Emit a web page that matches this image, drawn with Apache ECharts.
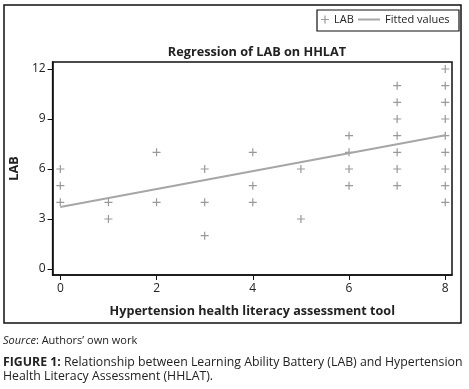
<!DOCTYPE html>
<html>
<head>
<meta charset="utf-8">
<script src="https://cdn.jsdelivr.net/npm/echarts@6/dist/echarts.min.js"></script>
<style>
  html, body { margin: 0; padding: 0; background: #fff; }
  #chart { width: 469px; height: 389px; }
</style>
</head>
<body>
<div id="chart"></div>
<script>
// HHLAT score (x) vs LAB score (y), one entry per visible marker
var hhlat = [0, 0, 0, 1, 1, 2, 2, 3, 3, 3, 4, 4, 4, 5, 5,
    6, 6, 6, 6, 7, 7, 7, 7, 7, 7, 7,
    8, 8, 8, 8, 8, 8, 8, 8, 8];
var lab = [4, 5, 6, 3, 4, 4, 7, 2, 4, 6, 4, 5, 7, 3, 6,
    5, 6, 7, 8, 5, 6, 7, 8, 9, 10, 11,
    4, 5, 6, 7, 8, 9, 10, 11, 12];
// fitted line end points
var fitX = [0, 8];
var fitY = [3.72, 8.02];
var xTicks = [0, 2, 4, 6, 8];
var yTicks = [0, 3, 6, 9, 12];

var plusPath = 'path://M3.4,0h1.2v3.4h3.4v1.2h-3.4v3.4h-1.2v-3.4h-3.4v-1.2h3.4z';
var font = '"Open Sans", sans-serif';

var scatterData = [];
for (var i = 0; i < hhlat.length; i++) {
    scatterData.push([hhlat[i], lab[i]]);
}
var fitData = [];
for (var j = 0; j < fitX.length; j++) {
    fitData.push([fitX[j], fitY[j]]);
}

var option = {
    animation: false,
    backgroundColor: '#fff',
    textStyle: { fontFamily: font },
    title: {
        text: 'Regression of LAB on HHLAT',
        left: 252,
        textAlign: 'center',
        top: 41,
        textStyle: { fontSize: 12.7, fontWeight: 'bold', color: '#222', fontFamily: font }
    },
    legend: [
        {
            left: 321,
            top: 14,
            padding: 0,
            itemWidth: 8,
            itemHeight: 8,
            textStyle: { fontSize: 11, color: '#222', fontFamily: font },
            data: [{ name: 'LAB', icon: plusPath, itemStyle: { color: '#808080' } }]
        },
        {
            left: 358,
            top: 14,
            padding: 0,
            itemWidth: 22,
            itemHeight: 2,
            textStyle: { fontSize: 11, color: '#222', fontFamily: font },
            data: [{ name: 'Fitted values', icon: 'rect', itemStyle: { color: '#a6a6a6' } }]
        }
    ],
    grid: {
        left: 49,
        right: 17,
        top: 62,
        bottom: 114,
        show: true,
        borderColor: '#111',
        borderWidth: 1.5
    },
    xAxis: {
        type: 'value',
        min: -0.16,
        max: 8.14,
        name: 'Hypertension health literacy assessment tool',
        nameLocation: 'middle',
        nameGap: 30,
        nameTextStyle: { fontSize: 12.6, fontWeight: 'bold', color: '#222' },
        splitLine: { show: false },
        axisLine: { onZero: false, lineStyle: { color: '#111', width: 1.5 } },
        axisTick: { length: 5, customValues: xTicks, lineStyle: { color: '#111' } },
        axisLabel: { customValues: xTicks, fontSize: 12, color: '#222', margin: 8 }
    },
    yAxis: {
        type: 'value',
        min: -0.36,
        max: 12.42,
        name: 'LAB',
        nameLocation: 'middle',
        nameGap: 26,
        nameTextStyle: { fontSize: 12.6, fontWeight: 'bold', color: '#222' },
        splitLine: { show: false },
        axisLine: { onZero: false, lineStyle: { color: '#111', width: 1.5 } },
        axisTick: { length: 5, customValues: yTicks, lineStyle: { color: '#111' } },
        axisLabel: { customValues: yTicks, fontSize: 12, color: '#222', margin: 7 }
    },
    series: [
        {
            name: 'LAB',
            type: 'scatter',
            symbol: plusPath,
            symbolSize: 8,
            itemStyle: { color: '#808080' },
            data: scatterData
        },
        {
            name: 'Fitted values',
            type: 'line',
            symbol: 'none',
            lineStyle: { color: '#a6a6a6', width: 2 },
            itemStyle: { color: '#a6a6a6' },
            data: fitData
        }
    ],
    graphic: [
        {
            type: 'rect',
            shape: { x: 4, y: 5, width: 457, height: 318 },
            style: { fill: 'none', stroke: '#111', lineWidth: 1.5 },
            silent: true
        },
        {
            type: 'rect',
            shape: { x: 317, y: 10, width: 142, height: 21 },
            style: { fill: 'none', stroke: '#111', lineWidth: 1.2 },
            silent: true
        },
        {
            type: 'text',
            left: 3,
            top: 335,
            style: {
                rich: {
                    i: { fontStyle: 'italic', fontSize: 11, fill: '#222', fontFamily: font },
                    n: { fontSize: 11, fill: '#222', fontFamily: font }
                },
                text: '{i|Source}{n|: Authors\u2019 own work}'
            }
        },
        {
            type: 'text',
            left: 3,
            top: 356,
            style: {
                rich: {
                    b: { fontWeight: 'bold', fontSize: 12.3, fill: '#222', fontFamily: font },
                    n: { fontSize: 12.3, fill: '#222', fontFamily: font }
                },
                text: '{b|FIGURE 1:}{n| Relationship between Learning Ability Battery (LAB) and Hypertension}'
            }
        },
        {
            type: 'text',
            left: 3,
            top: 370,
            style: {
                text: 'Health Literacy Assessment (HHLAT).',
                fontSize: 12.3,
                fill: '#222',
                fontFamily: font
            }
        }
    ]
};

var chart = echarts.init(document.getElementById('chart'));
chart.setOption(option);
</script>
</body>
</html>
